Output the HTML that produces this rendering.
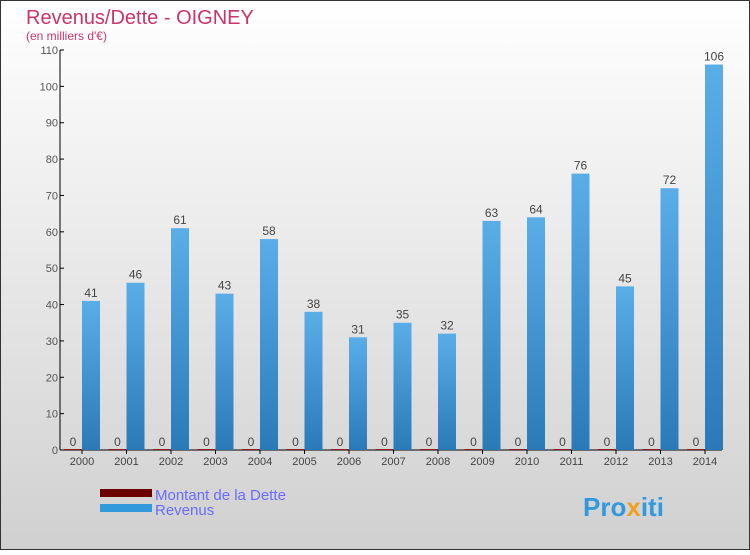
<!DOCTYPE html>
<html><head><meta charset="utf-8"><style>
body{margin:0;width:750px;height:550px;overflow:hidden;font-family:"Liberation Sans",sans-serif}
</style></head><body>
<svg width="750" height="550">
<defs>
<linearGradient id="bg" x1="0" y1="0" x2="0" y2="1"><stop offset="0" stop-color="#ffffff"/><stop offset="1" stop-color="#d0d0d0"/></linearGradient>
<linearGradient id="bar" x1="0" y1="0" x2="0" y2="1"><stop offset="0" stop-color="#5aaee8"/><stop offset="1" stop-color="#2a7ab8"/></linearGradient>
</defs>
<rect x="0.5" y="0.5" width="749" height="549" fill="url(#bg)" stroke="#333"/>
<text x="26" y="24" font-size="20" fill="#c8356a">Revenus/Dette - OIGNEY</text>
<text x="26" y="40" font-size="12" fill="#c8356a">(en milliers d'€)</text>
<g id="plot"></g>
<rect x="100" y="489" width="52" height="8" fill="#6b0000"/>
<rect x="100" y="504" width="52" height="8" fill="#3399dd"/>
<text x="155" y="500" font-size="15" fill="#6a6aff">Montant de la Dette</text>
<text x="155" y="515" font-size="15" fill="#6a6aff">Revenus</text>
<text x="583" y="516" font-size="26" font-weight="bold" fill="#3399dd">Pro<tspan fill="#f0a020">x</tspan>iti</text>
</svg>
<script>
const years=["2000","2001","2002","2003","2004","2005","2006","2007","2008","2009","2010","2011","2012","2013","2014"];
const revenus=[41,46,61,43,58,38,31,35,32,63,64,76,45,72,106];
const dette=[0,0,0,0,0,0,0,0,0,0,0,0,0,0,0];
const yTicks=[0,10,20,30,40,50,60,70,80,90,100,110];
const NS="http://www.w3.org/2000/svg";
const g=document.getElementById('plot');
const y0=450,yTop=50,maxV=110,x0=60,step=44.5,first=82;
const Y=v=>y0-(v/maxV)*(y0-yTop);
const X=i=>first+i*step;
function mk(t,a){const e=document.createElementNS(NS,t);for(const k in a)e.setAttribute(k,a[k]);g.appendChild(e);return e;}
let e;
e=mk('line',{x1:x0,y1:yTop,x2:x0,y2:y0,stroke:'#000'});


e=mk('line',{x1:x0,y1:y0,x2:722,y2:y0,stroke:'#000'});


yTicks.forEach(v=>{
 e=mk('line',{x1:x0,y1:Y(v),x2:x0+4,y2:Y(v),stroke:'#000'});
 
 
 e=mk('text',{x:x0-2,y:Y(v)+4,'font-size':11,fill:'#555','text-anchor':'end'});e.textContent=v;
 
 
});
years.forEach((yr,i)=>{
 const cx=X(i);
 e=mk('line',{x1:cx,y1:y0,x2:cx,y2:y0+4,stroke:'#000'});
 
 
 e=mk('text',{x:cx,y:y0+15,'font-size':11,fill:'#444','text-anchor':'middle'});e.textContent=yr;
 
 
 e=mk('rect',{x:cx-18,y:Y(dette[i])-1,width:18,height:y0-Y(dette[i])+1,fill:'#8b2020'});
 
 
 e=mk('text',{x:cx-9,y:Y(dette[i])-4,'font-size':12,fill:'#444','text-anchor':'middle'});e.textContent=dette[i];
 
 
 e=mk('rect',{x:cx,y:Y(revenus[i]),width:18,height:y0-Y(revenus[i]),fill:'url(#bar)'});
 
 
 e=mk('text',{x:cx+9,y:Y(revenus[i])-4,'font-size':12,fill:'#444','text-anchor':'middle'});e.textContent=revenus[i];
 
 
});
</script>
</body></html>
